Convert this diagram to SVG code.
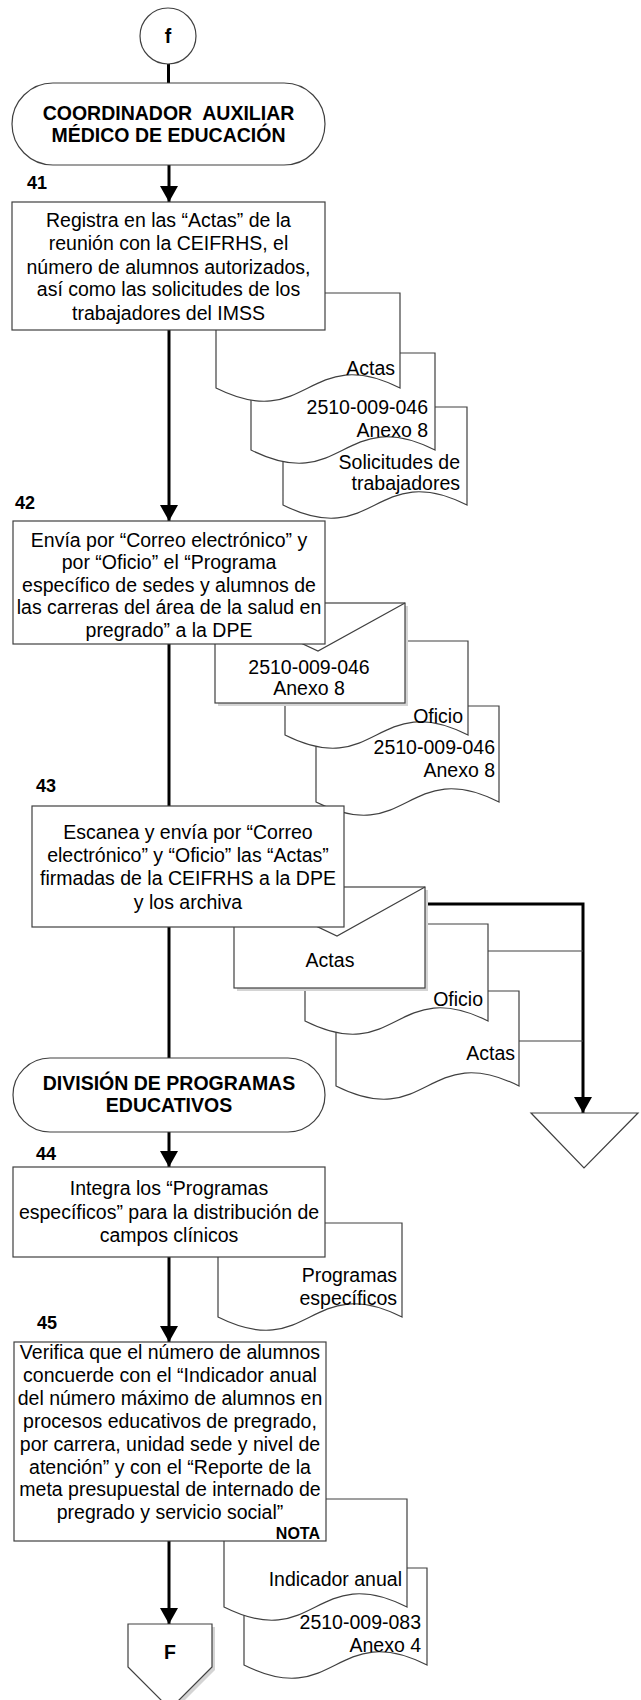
<svg xmlns="http://www.w3.org/2000/svg" width="641" height="1700" viewBox="0 0 641 1700">
<defs>
<style>
.s{fill:#fff;stroke:#404040;stroke-width:1.2}
.sh{fill:#d4d4d4;stroke:none}
.t{font-family:"Liberation Sans",Arial,sans-serif;font-size:19.5px;fill:#000}
.c{text-anchor:middle}
.r{text-anchor:end}
.b{font-weight:bold}
.n{font-family:"Liberation Sans",Arial,sans-serif;font-size:18px;font-weight:bold;fill:#000}
.k{fill:none;stroke:#000;stroke-width:3}
.th{fill:none;stroke:#404040;stroke-width:1.2}
</style>
<marker id="ah" markerUnits="userSpaceOnUse" markerWidth="20" markerHeight="20" viewBox="0 0 20 20" refX="18" refY="10" orient="auto">
<path d="M2,1 L18,10 L2,19 Z" fill="#000"/>
</marker>
</defs>

<g id="connectors">
<path class="k" d="M168.5,64 V83"/>
<path class="k" d="M169,165 V202" marker-end="url(#ah)"/>
<path class="k" d="M169,330 V521" marker-end="url(#ah)"/>
<path class="k" d="M169,644 V806"/>
<path class="k" d="M169,927 V1058"/>
<path class="k" d="M169,1132 V1167" marker-end="url(#ah)"/>
<path class="k" d="M169,1257 V1342" marker-end="url(#ah)"/>
<path class="k" d="M169,1541 V1624" marker-end="url(#ah)"/>
<path class="k" d="M425,904 H583 V1113" marker-end="url(#ah)"/>
<path class="th" d="M488,951 H583"/>
<path class="th" d="M519,1041 H583"/>
</g>

<g id="start-f">
<circle class="s" cx="168" cy="36" r="28"/>
<text class="t c b" x="168" y="43">f</text>
</g>

<g id="term1">
<rect class="s" x="12" y="83" width="313" height="82" rx="41" ry="41"/>
<text class="t c b" x="168.5" y="120" xml:space="preserve">COORDINADOR  AUXILIAR</text>
<text class="t c b" x="168.5" y="142">MÉDICO DE EDUCACIÓN</text>
</g>

<g id="docs41">
<path class="s" d="M283,407 H467 V505 C375,459 375,551 283,505 Z"/>
<text class="t r" x="460" y="469">Solicitudes de</text>
<text class="t r" x="460" y="490">trabajadores</text>
<path class="s" d="M251,353 H435 V450 C343,404 343,496 251,450 Z"/>
<text class="t r" x="428" y="414">2510-009-046</text>
<text class="t r" x="428" y="437">Anexo 8</text>
<path class="s" d="M216,293 H400 V388 C308,342 308,434 216,388 Z"/>
<text class="t r" x="395" y="375">Actas</text>
</g>

<g id="step41">
<text class="n" x="27" y="188.5">41</text>
<rect class="s" x="12" y="202" width="313" height="128"/>
<text class="t c" x="168.5" y="227">Registra en las “Actas” de la</text>
<text class="t c" x="168.5" y="250">reunión con la CEIFRHS, el</text>
<text class="t c" x="168.5" y="274">número de alumnos autorizados,</text>
<text class="t c" x="168.5" y="296">así como las solicitudes de los</text>
<text class="t c" x="168.5" y="320">trabajadores del IMSS</text>
</g>

<g id="docs42">
<path class="s" d="M316,706 H499 V802 C407.5,756 407.5,848 316,802 Z"/>
<text class="t r" x="495" y="754">2510-009-046</text>
<text class="t r" x="495" y="777">Anexo 8</text>
<path class="s" d="M285,641 H468 V735 C376.5,689 376.5,781 285,735 Z"/>
<text class="t r" x="463" y="723">Oficio</text>
<rect class="sh" x="218" y="606" width="190" height="100"/>
<rect class="s" x="215" y="603" width="190" height="100"/>
<path class="th" d="M215,603 L318,651 L405,603"/>
<text class="t c" x="309" y="674">2510-009-046</text>
<text class="t c" x="309" y="695">Anexo 8</text>
</g>

<g id="step42">
<text class="n" x="15" y="508.5">42</text>
<rect class="s" x="13" y="521" width="312" height="123"/>
<text class="t c" x="169" y="547">Envía por “Correo electrónico” y</text>
<text class="t c" x="169" y="569">por “Oficio” el “Programa</text>
<text class="t c" x="169" y="592">específico de sedes y alumnos de</text>
<text class="t c" x="169" y="614">las carreras del área de la salud en</text>
<text class="t c" x="169" y="637">pregrado” a la DPE</text>
</g>

<g id="docs43">
<path class="s" d="M336,991 H519 V1086 C427.5,1040 427.5,1132 336,1086 Z"/>
<text class="t r" x="515" y="1060">Actas</text>
<path class="s" d="M305,924 H488 V1021 C396.5,975 396.5,1067 305,1021 Z"/>
<text class="t r" x="483" y="1006">Oficio</text>
<rect class="sh" x="237" y="890" width="191" height="101"/>
<rect class="s" x="234" y="887" width="191" height="101"/>
<path class="th" d="M234,887 L337,936 L425,887"/>
<text class="t c" x="330" y="967">Actas</text>
</g>

<g id="step43">
<text class="n" x="36" y="791.5">43</text>
<rect class="s" x="32" y="806" width="312" height="121"/>
<text class="t c" x="188" y="839">Escanea y envía por “Correo</text>
<text class="t c" x="188" y="862">electrónico” y “Oficio” las “Actas”</text>
<text class="t c" x="188" y="885">firmadas de la CEIFRHS a la DPE</text>
<text class="t c" x="188" y="909">y los archiva</text>
</g>

<g id="archive">
<path class="s" d="M531,1113 H638 L584,1168 Z"/>
</g>

<g id="term2">
<rect class="s" x="13" y="1058" width="312" height="74" rx="37" ry="37"/>
<text class="t c b" x="169" y="1090">DIVISIÓN DE PROGRAMAS</text>
<text class="t c b" x="169" y="1112">EDUCATIVOS</text>
</g>

<g id="docs44">
<path class="s" d="M218,1223 H402 V1317 C310,1271 310,1363 218,1317 Z"/>
<text class="t r" x="397" y="1282">Programas</text>
<text class="t r" x="397" y="1305">específicos</text>
</g>

<g id="step44">
<text class="n" x="36" y="1159.5">44</text>
<rect class="s" x="13" y="1167" width="312" height="90"/>
<text class="t c" x="169" y="1195">Integra los “Programas</text>
<text class="t c" x="169" y="1219">específicos” para la distribución de</text>
<text class="t c" x="169" y="1242">campos clínicos</text>
</g>

<g id="docs45">
<path class="s" d="M244,1568 H427 V1665 C335.5,1619 335.5,1711 244,1665 Z"/>
<text class="t r" x="421" y="1629">2510-009-083</text>
<text class="t r" x="421" y="1652">Anexo 4</text>
<path class="s" d="M224,1499 H407 V1607 C315.5,1561 315.5,1653 224,1607 Z"/>
<text class="t r" x="402" y="1586">Indicador anual</text>
</g>

<g id="step45">
<text class="n" x="37" y="1328.5">45</text>
<rect class="s" x="14" y="1342" width="312" height="199"/>
<text class="t c" x="170" y="1359">Verifica que el número de alumnos</text>
<text class="t c" x="170" y="1382">concuerde con el “Indicador anual</text>
<text class="t c" x="170" y="1405">del número máximo de alumnos en</text>
<text class="t c" x="170" y="1428">procesos educativos de pregrado,</text>
<text class="t c" x="170" y="1451">por carrera, unidad sede y nivel de</text>
<text class="t c" x="170" y="1474">atención” y con el “Reporte de la</text>
<text class="t c" x="170" y="1496">meta presupuestal de internado de</text>
<text class="t c" x="170" y="1519">pregrado y servicio social”</text>
<text class="t r b" x="320" y="1539" style="font-size:16px">NOTA</text>
</g>

<g id="offpage-F">
<path class="sh" d="M131,1627 H215 V1670 L173,1712 L131,1670 Z"/>
<path class="s" d="M128,1624 H212 V1667 L170,1709 L128,1667 Z"/>
<text class="t c b" x="170" y="1659">F</text>
</g>
</svg>
